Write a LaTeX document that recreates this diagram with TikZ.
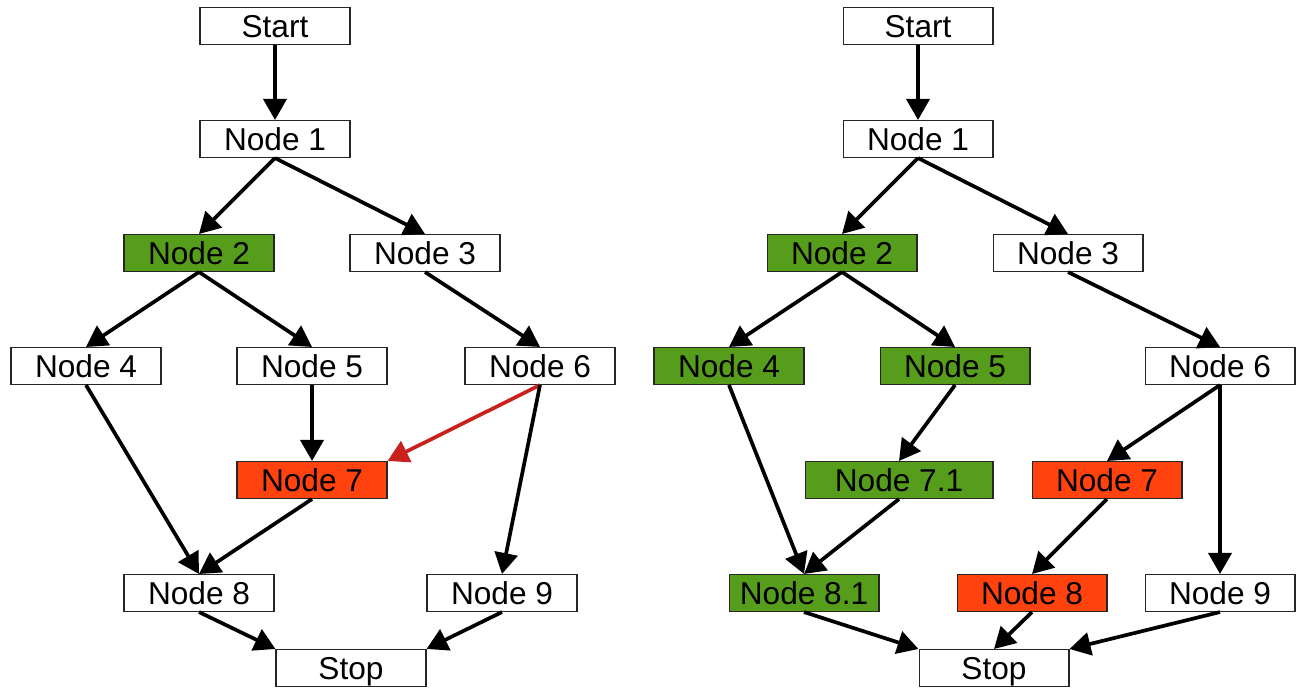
\documentclass[tikz,border=0pt]{standalone}
\usepackage{fontspec}
\setmainfont{Liberation Sans}
\usetikzlibrary{arrows.meta,positioning}
\definecolor{passgreen}{HTML}{579D1C}
\definecolor{failred}{HTML}{FF420E}
\definecolor{linkred}{HTML}{C9211E}

\begin{document}
\begin{tikzpicture}[
  x=0.02cm,y=-0.02cm,
  block/.style={draw=black!85,line width=0.6pt,fill=white,minimum width=3cm,minimum height=0.74cm,
    inner sep=0pt,text height=13pt,text depth=0pt,font=\fontsize{18}{20}\selectfont},
  flow/.style={line width=2.1pt,-{Triangle[length=0.42cm,width=0.46cm]}}
]
  \useasboundingbox (0,0) rectangle (1307,687);

  % left flow
  \node[block] (startL) at (275,26) {Start};
  \node[block] (n1L) at (275,139) {Node 1};
  \node[block,fill=passgreen] (n2L) at (199,253) {Node 2};
  \node[block] (n3L) at (425,253) {Node 3};
  \node[block] (n4L) at (86,366) {Node 4};
  \node[block] (n5L) at (312,366) {Node 5};
  \node[block] (n6L) at (540,366) {Node 6};
  \node[block,fill=failred] (n7L) at (312,480) {Node 7};
  \node[block] (n8L) at (199,593) {Node 8};
  \node[block] (n9L) at (502,593) {Node 9};
  \node[block] (stopL) at (351,668) {Stop};

  \draw[flow] (startL.south) -- (n1L.north);
  \draw[flow] (n1L.south) -- (n2L.north);
  \draw[flow] (n1L.south) -- (n3L.north);
  \draw[flow] (n2L.south) -- (n4L.north);
  \draw[flow] (n2L.south) -- (n5L.north);
  \draw[flow] (n3L.south) -- (n6L.north);
  \draw[flow] (n4L.south) -- (n8L.north);
  \draw[flow] (n5L.south) -- (n7L.north);
  \draw[flow,linkred] (n6L.south) -- (n7L.north east);
  \draw[flow] (n6L.south) -- (n9L.north);
  \draw[flow] (n7L.south) -- (n8L.north);
  \draw[flow] (n8L.south) -- (stopL.north west);
  \draw[flow] (n9L.south) -- (stopL.north east);

  % right flow
  \node[block] (startR) at (918,26) {Start};
  \node[block] (n1R) at (918,139) {Node 1};
  \node[block,fill=passgreen] (n2R) at (842,253) {Node 2};
  \node[block] (n3R) at (1068,253) {Node 3};
  \node[block,fill=passgreen] (n4R) at (729,366) {Node 4};
  \node[block,fill=passgreen] (n5R) at (955,366) {Node 5};
  \node[block] (n6R) at (1220,366) {Node 6};
  \node[block,fill=passgreen,minimum width=3.76cm] (n71R) at (899,480) {Node 7.1};
  \node[block,fill=failred] (n7R) at (1107,480) {Node 7};
  \node[block,fill=passgreen] (n81R) at (804,593) {Node 8.1};
  \node[block,fill=failred] (n8R) at (1032,593) {Node 8};
  \node[block] (n9R) at (1220,593) {Node 9};
  \node[block] (stopR) at (994,668) {Stop};

  \draw[flow] (startR.south) -- (n1R.north);
  \draw[flow] (n1R.south) -- (n2R.north);
  \draw[flow] (n1R.south) -- (n3R.north);
  \draw[flow] (n2R.south) -- (n4R.north);
  \draw[flow] (n2R.south) -- (n5R.north);
  \draw[flow] (n3R.south) -- (n6R.north);
  \draw[flow] (n4R.south) -- (n81R.north);
  \draw[flow] (n5R.south) -- (n71R.north);
  \draw[flow] (n71R.south) -- (n81R.north);
  \draw[flow] (n6R.south) -- (n7R.north);
  \draw[flow] (n6R.south) -- (n9R.north);
  \draw[flow] (n7R.south) -- (n8R.north);
  \draw[flow] (n81R.south) -- (stopR.north west);
  \draw[flow] (n8R.south) -- (stopR.north);
  \draw[flow] (n9R.south) -- (stopR.north east);
\end{tikzpicture}
\end{document}
